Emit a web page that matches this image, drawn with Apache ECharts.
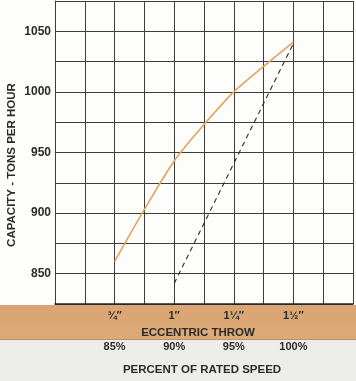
<!DOCTYPE html>
<html>
<head>
<meta charset="utf-8">
<script src="https://cdn.jsdelivr.net/npm/echarts@6/dist/echarts.min.js"></script>
<style>
html,body{margin:0;padding:0;}
body{width:356px;height:381px;background:linear-gradient(to bottom,#fdfdfb 0px,#fdfdfb 305px,#d9a572 305px,#dcaa78 339px,#b8936a 339px,#b8936a 340px,#ececea 340px,#ececea 381px);}
#chart{width:356px;height:381px;}
</style>
</head>
<body>
<div id="chart"></div>
<script>
// Eccentric throw (inches) and capacity (tons per hour)
const throwValues = [0.75, 0.875, 1.0, 1.125, 1.25, 1.375, 1.5];
const capacityValues = [860, 903, 943, 973, 1000, 1021, 1041];
// dashed reference line
const dashedThrow = [1.0, 1.5];
const dashedCapacity = [842, 1040];
// tick labels
const throwTicks = [0.75, 1.0, 1.25, 1.5];
const throwLabels = ['¾″', '1″', '1¼″', '1½″'];
const speedLabels = ['85%', '90%', '95%', '100%'];
const capacityTicks = [850, 900, 950, 1000, 1050];

const font = 'Liberation Sans, Arial, sans-serif';
const txt = '#2b2b2b';
const gridColor = '#3c3c3c';

function lookup(labels){
  return function(v){
    for (let i = 0; i < throwTicks.length; i++) {
      if (Math.abs(v - throwTicks[i]) < 1e-6) return labels[i];
    }
    return '';
  };
}

const chart = echarts.init(document.getElementById('chart'), null, {renderer:'canvas'});
chart.setOption({
  animation: false,
  backgroundColor: 'transparent',
  grid: {left: 55, right: 1, top: 1, bottom: 76, show: false},
  xAxis: [{
    type: 'value', min: 0.5, max: 1.75, interval: 0.125, position: 'bottom',
    axisLine: {show: true, lineStyle: {color: '#222', width: 1.5}},
    axisTick: {show: false},
    splitLine: {show: true, lineStyle: {color: gridColor, width: 1}},
    axisLabel: {formatter: lookup(throwLabels), margin: 6, color: txt, fontFamily: font, fontWeight: 'bold', fontSize: 11, showMinLabel: true, showMaxLabel: true},
    name: 'ECCENTRIC THROW', nameLocation: 'middle', nameGap: 23,
    nameTextStyle: {color: txt, fontFamily: font, fontWeight: 'bold', fontSize: 11.5, padding: [0, 12, 0, 0]}
  }, {
    type: 'value', min: 0.5, max: 1.75, interval: 0.125, position: 'bottom', offset: 31,
    axisLine: {show: false}, axisTick: {show: false}, splitLine: {show: false},
    axisLabel: {formatter: lookup(speedLabels), margin: 6, color: txt, fontFamily: font, fontWeight: 'bold', fontSize: 11},
    name: 'PERCENT OF RATED SPEED', nameLocation: 'middle', nameGap: 29,
    nameTextStyle: {color: txt, fontFamily: font, fontWeight: 'bold', fontSize: 11.5, padding: [0, 4, 0, 0]}
  }],
  yAxis: {
    type: 'value', min: 825, max: 1075, interval: 25,
    axisLine: {show: true, lineStyle: {color: gridColor, width: 1}},
    axisTick: {show: false},
    splitLine: {show: true, lineStyle: {color: gridColor, width: 1}},
    axisLabel: {formatter: function(v){ return capacityTicks.indexOf(v) >= 0 ? String(v) : ''; }, margin: 4, color: txt, fontFamily: font, fontWeight: 'bold', fontSize: 12}
  },
  graphic: [{
    type: 'text', x: 12, y: 165, rotation: Math.PI / 2,
    style: {text: 'CAPACITY - TONS PER HOUR', fill: txt, font: 'bold 11.5px ' + font, textAlign: 'center', textVerticalAlign: 'middle'}
  }],
  series: [{
    type: 'line', xAxisIndex: 0,
    data: throwValues.map((x, i) => [x, capacityValues[i]]),
    smooth: 0.3, showSymbol: false,
    lineStyle: {color: '#e8a25c', width: 1.6}
  }, {
    type: 'line', xAxisIndex: 0,
    data: dashedThrow.map((x, i) => [x, dashedCapacity[i]]),
    showSymbol: false,
    lineStyle: {color: '#2a2a2a', width: 1.1, type: [5, 4]}
  }]
});
</script>
</body>
</html>
